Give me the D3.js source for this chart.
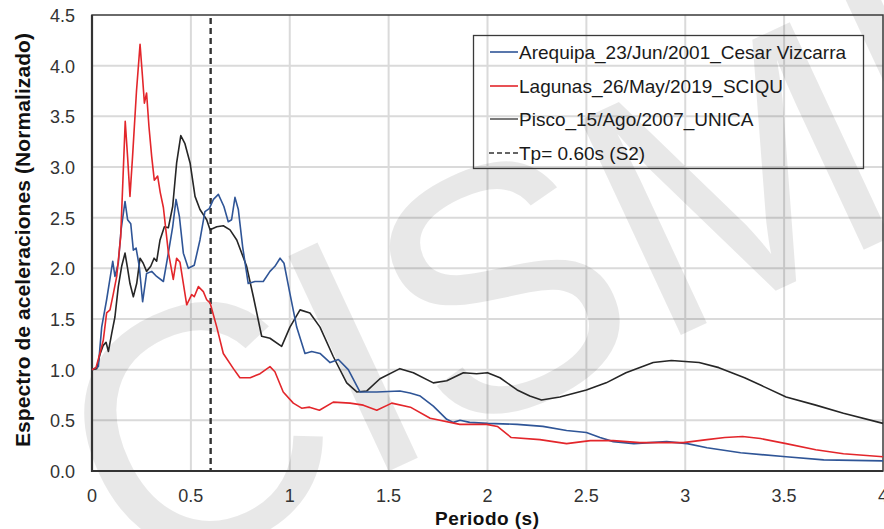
<!DOCTYPE html>
<html>
<head>
<meta charset="utf-8">
<script src="https://cdn.jsdelivr.net/npm/d3@7"></script>
<style>
  html, body { margin: 0; padding: 0; background: #fff; }
  svg { display: block; font-family: "Liberation Sans", Arial, sans-serif; }
</style>
</head>
<body>
<svg id="chart" width="884" height="529"></svg>
<script>
// Normalised acceleration response spectra (Sa / PGA) vs. period
const xTicks = [0, 0.5, 1, 1.5, 2, 2.5, 3, 3.5, 4];
const xTickLabels = ["0", "0.5", "1", "1.5", "2", "2.5", "3", "3.5", "4"];
const yTicks = [0, 0.5, 1, 1.5, 2, 2.5, 3, 3.5, 4, 4.5];
const yTickLabels = ["0.0", "0.5", "1.0", "1.5", "2.0", "2.5", "3.0", "3.5", "4.0", "4.5"];

const seriesNames = ["Arequipa_23/Jun/2001_Cesar Vizcarra", "Lagunas_26/May/2019_SCIQU", "Pisco_15/Ago/2007_UNICA"];
const seriesColors = ["#2f5597", "#e3262b", "#262626"];
const legendSwatchColors = ["#2f5597", "#e3262b", "#595959"];
const tpLabel = "Tp= 0.60s (S2)";
const tpPeriod = 0.6;

// Arequipa 2001 (Cesar Vizcarra station)
const arequipaT = [0, 0.032, 0.049, 0.074, 0.105, 0.116, 0.133, 0.147, 0.167, 0.18, 0.196, 0.209, 0.223, 0.239, 0.256, 0.276, 0.302, 0.327, 0.361, 0.386, 0.408, 0.425, 0.442, 0.462, 0.487, 0.517, 0.546, 0.571, 0.593, 0.614, 0.639, 0.667, 0.689, 0.706, 0.723, 0.74, 0.762, 0.79, 0.824, 0.866, 0.90, 0.925, 0.951, 0.971, 1.001, 1.035, 1.077, 1.111, 1.153, 1.204, 1.246, 1.296, 1.355, 1.44, 1.557, 1.608, 1.66, 1.726, 1.794, 1.827, 1.861, 1.91, 2.0, 2.15, 2.28, 2.40, 2.50, 2.569, 2.636, 2.74, 2.906, 3.01, 3.11, 3.28, 3.51, 3.70, 4.0];
const arequipaSa = [1.0, 1.03, 1.42, 1.69, 2.07, 1.92, 2.05, 2.38, 2.66, 2.48, 2.44, 2.18, 2.20, 2.02, 1.67, 1.95, 1.97, 1.92, 1.87, 2.15, 2.41, 2.68, 2.51, 2.15, 2.00, 2.03, 2.28, 2.56, 2.59, 2.68, 2.73, 2.61, 2.46, 2.48, 2.70, 2.58, 2.21, 1.85, 1.87, 1.87, 1.97, 2.02, 2.10, 2.05, 1.75, 1.42, 1.16, 1.18, 1.16, 1.07, 1.10, 1.00, 0.78, 0.78, 0.79, 0.77, 0.74, 0.64, 0.51, 0.48, 0.50, 0.48, 0.47, 0.46, 0.44, 0.40, 0.38, 0.33, 0.29, 0.27, 0.29, 0.27, 0.23, 0.18, 0.14, 0.11, 0.10];

// Lagunas 2019 (SCIQU station)
const lagunasT = [0, 0.02, 0.04, 0.057, 0.074, 0.091, 0.108, 0.125, 0.145, 0.168, 0.18, 0.192, 0.205, 0.225, 0.243, 0.255, 0.265, 0.276, 0.288, 0.302, 0.315, 0.332, 0.345, 0.361, 0.386, 0.411, 0.428, 0.445, 0.462, 0.479, 0.504, 0.517, 0.538, 0.563, 0.58, 0.597, 0.631, 0.664, 0.715, 0.748, 0.80, 0.85, 0.90, 0.925, 0.967, 1.018, 1.06, 1.10, 1.15, 1.22, 1.305, 1.372, 1.44, 1.516, 1.61, 1.71, 1.86, 1.996, 2.05, 2.12, 2.265, 2.40, 2.52, 2.636, 2.77, 2.99, 3.11, 3.20, 3.29, 3.38, 3.51, 3.66, 3.80, 4.0];
const lagunasSa = [1.0, 1.02, 1.16, 1.29, 1.56, 1.59, 1.75, 1.92, 2.31, 3.45, 3.1, 2.71, 3.1, 3.75, 4.21, 3.9, 3.63, 3.73, 3.4, 3.1, 2.87, 2.91, 2.75, 2.6, 2.16, 1.89, 2.10, 2.06, 1.85, 1.64, 1.74, 1.72, 1.82, 1.77, 1.69, 1.66, 1.42, 1.16, 1.01, 0.92, 0.92, 0.96, 1.03, 0.98, 0.78, 0.67, 0.62, 0.63, 0.60, 0.68, 0.67, 0.65, 0.60, 0.67, 0.63, 0.52, 0.46, 0.46, 0.44, 0.33, 0.31, 0.27, 0.30, 0.30, 0.28, 0.28, 0.31, 0.33, 0.34, 0.32, 0.27, 0.21, 0.17, 0.14];

// Pisco 2007 (UNICA station)
const piscoT = [0, 0.024, 0.04, 0.057, 0.071, 0.083, 0.10, 0.116, 0.133, 0.15, 0.167, 0.18, 0.192, 0.209, 0.226, 0.243, 0.259, 0.276, 0.297, 0.314, 0.327, 0.344, 0.366, 0.386, 0.408, 0.428, 0.449, 0.47, 0.496, 0.521, 0.546, 0.58, 0.597, 0.631, 0.664, 0.698, 0.732, 0.782, 0.816, 0.858, 0.90, 0.959, 1.001, 1.052, 1.102, 1.153, 1.22, 1.288, 1.339, 1.39, 1.456, 1.557, 1.625, 1.726, 1.794, 1.878, 1.945, 2.0, 2.063, 2.15, 2.214, 2.273, 2.366, 2.50, 2.60, 2.70, 2.838, 2.93, 3.07, 3.17, 3.30, 3.40, 3.51, 3.66, 3.80, 4.0];
const piscoSa = [1.0, 1.01, 1.15, 1.24, 1.27, 1.18, 1.36, 1.52, 1.82, 2.02, 2.15, 2.00, 1.85, 1.72, 1.85, 2.10, 2.05, 1.97, 2.02, 2.10, 2.07, 2.28, 2.41, 2.40, 2.61, 3.04, 3.31, 3.23, 3.04, 2.71, 2.58, 2.48, 2.38, 2.41, 2.42, 2.38, 2.28, 2.02, 1.72, 1.33, 1.31, 1.23, 1.42, 1.59, 1.56, 1.42, 1.13, 0.87, 0.78, 0.79, 0.91, 1.01, 0.97, 0.87, 0.89, 0.97, 0.96, 0.97, 0.92, 0.80, 0.74, 0.70, 0.73, 0.80, 0.87, 0.97, 1.07, 1.09, 1.07, 1.02, 0.92, 0.83, 0.73, 0.65, 0.57, 0.47];

const svg = d3.select("#chart");
const plot = { left: 92, right: 883, top: 15, bottom: 471 };

const x = d3.scaleLinear().domain([0, 4]).range([plot.left, plot.right]);
const y = d3.scaleLinear().domain([0, 4.5]).range([plot.bottom, plot.top]);

// grid
const grid = svg.append("g");
grid.selectAll("line.gx").data(xTicks.slice(1, -1)).join("line")
  .attr("x1", d => x(d)).attr("x2", d => x(d))
  .attr("y1", plot.top).attr("y2", plot.bottom)
  .attr("stroke", "#dadada").attr("stroke-width", 2);
grid.selectAll("line.gy").data(yTicks.slice(1, -1)).join("line")
  .attr("x1", plot.left).attr("x2", plot.right)
  .attr("y1", d => y(d)).attr("y2", d => y(d))
  .attr("stroke", "#dadada").attr("stroke-width", 2);

// watermark
svg.append("text")
  .attr("transform", "translate(134,590) rotate(-25)")
  .attr("font-size", 345)
  .attr("font-family", "Liberation Sans, Arial, sans-serif")
  .attr("fill", "#000").attr("fill-opacity", 0.09)
  .text("CISMID");

// frame
svg.append("rect")
  .attr("x", plot.left).attr("y", plot.top)
  .attr("width", plot.right - plot.left).attr("height", plot.bottom - plot.top)
  .attr("fill", "none").attr("stroke", "#3a3a3a").attr("stroke-width", 1.5);
svg.append("line").attr("x1", plot.left).attr("x2", plot.left)
  .attr("y1", plot.top).attr("y2", plot.bottom + 1)
  .attr("stroke", "#333").attr("stroke-width", 2.2);
svg.append("line").attr("x1", plot.left - 1).attr("x2", plot.right)
  .attr("y1", plot.bottom).attr("y2", plot.bottom)
  .attr("stroke", "#333").attr("stroke-width", 2.2);

// Tp marker
svg.append("line")
  .attr("x1", x(tpPeriod)).attr("x2", x(tpPeriod))
  .attr("y1", y(4.5) + 3).attr("y2", plot.bottom)
  .attr("stroke", "#333").attr("stroke-width", 2.4)
  .attr("stroke-dasharray", "6,4");

// spectra
const line = d3.line().x(d => x(d[0])).y(d => y(d[1]));
const series = [
  d3.zip(arequipaT, arequipaSa),
  d3.zip(lagunasT, lagunasSa),
  d3.zip(piscoT, piscoSa)
];
// drawing order: Pisco underneath, then Arequipa, Lagunas on top
[2, 0, 1].forEach(i => {
  svg.append("path").datum(series[i])
    .attr("d", line)
    .attr("fill", "none")
    .attr("stroke", seriesColors[i])
    .attr("stroke-width", 1.6)
    .attr("stroke-linejoin", "round");
});

// tick labels
svg.append("g").selectAll("text").data(yTicks).join("text")
  .attr("x", 75).attr("y", d => y(d) + 7)
  .attr("text-anchor", "end")
  .attr("font-size", 18).attr("fill", "#333")
  .text((d, i) => yTickLabels[i]);
svg.append("g").selectAll("text").data(xTicks).join("text")
  .attr("x", d => x(d)).attr("y", 502)
  .attr("text-anchor", "middle")
  .attr("font-size", 18).attr("fill", "#333")
  .text((d, i) => xTickLabels[i]);

// axis titles
svg.append("text")
  .attr("x", 487).attr("y", 525)
  .attr("text-anchor", "middle")
  .attr("font-size", 19).attr("font-weight", "bold").attr("fill", "#111")
  .attr("textLength", 104).attr("lengthAdjust", "spacing")
  .text("Periodo (s)");
svg.append("text")
  .attr("transform", "translate(30,240) rotate(-90)")
  .attr("text-anchor", "middle")
  .attr("font-size", 21).attr("font-weight", "bold").attr("fill", "#111")
  .attr("textLength", 414).attr("lengthAdjust", "spacing")
  .text("Espectro de aceleraciones (Normalizado)");

// legend
const lg = svg.append("g");
lg.append("rect").attr("x", 473.5).attr("y", 35.5).attr("width", 390).attr("height", 133)
  .attr("fill", "none").attr("stroke", "#3a3a3a").attr("stroke-width", 1.3);
const rowY = [52, 86, 119, 153];
seriesNames.forEach((name, i) => {
  lg.append("line").attr("x1", 490).attr("x2", 518)
    .attr("y1", rowY[i]).attr("y2", rowY[i])
    .attr("stroke", legendSwatchColors[i]).attr("stroke-width", 1.6);
  lg.append("text").attr("x", 519).attr("y", rowY[i] + 6.5)
    .attr("font-size", 19).attr("fill", "#1a1a1a").text(name);
});
lg.append("line").attr("x1", 489).attr("x2", 518)
  .attr("y1", rowY[3]).attr("y2", rowY[3])
  .attr("stroke", "#333").attr("stroke-width", 1.6).attr("stroke-dasharray", "5,3");
lg.append("text").attr("x", 519).attr("y", rowY[3] + 6.5)
  .attr("font-size", 19).attr("fill", "#1a1a1a").text(tpLabel);
</script>
</body>
</html>
